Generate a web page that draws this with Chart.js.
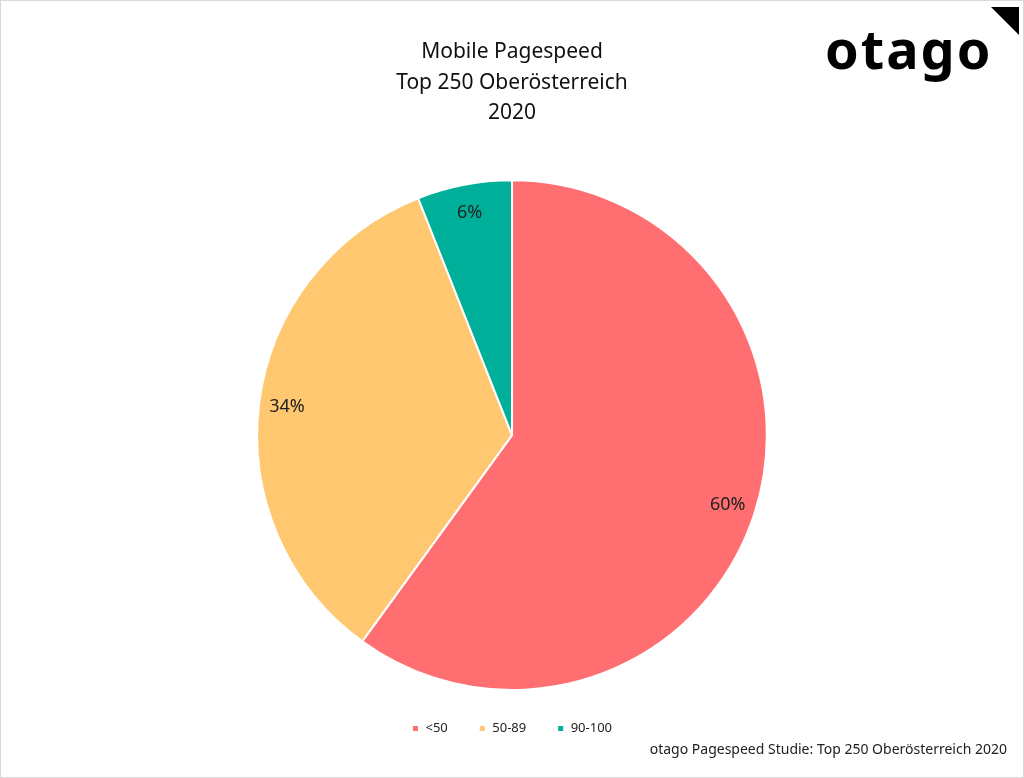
<!DOCTYPE html>
<html><head><meta charset="utf-8">
<script src="https://cdn.jsdelivr.net/npm/chart.js@4"></script>
<style>
html,body{margin:0;padding:0;background:#fff;}
#wrap{position:relative;width:1022px;height:776px;border:1px solid #d9d9d9;overflow:hidden;}
#c{position:absolute;left:0;top:0;}
#logo{position:absolute;left:824px;top:10px;font:bold 54px "Noto Sans",sans-serif;color:#000;letter-spacing:2px;}
#tri{position:absolute;left:990px;top:6px;width:0;height:0;border-top:28px solid #000;border-left:28px solid transparent;}
#foot{position:absolute;right:16px;top:738px;font:14px "Noto Sans",sans-serif;color:#222;}
</style></head><body>
<div id="wrap">
<canvas id="c" width="1022" height="776"></canvas>
<div id="logo">otago</div><div id="tri"></div>
<div id="foot">otago Pagespeed Studie: Top 250 Oberösterreich 2020</div>
</div>
<script>
const labels = ["<50","50-89","90-100"];
const values = [60,34,6];
const colors = ["#FF6F72","#FFC870","#00AF9A"];
const titleLines = ["Mobile Pagespeed","Top 250 Oberösterreich","2020"];

const labelPlugin = {
  id:'lbl',
  afterDatasetsDraw(chart){
    const ctx = chart.ctx;
    const total = values.reduce((a,b)=>a+b,0);
    chart.getDatasetMeta(0).data.forEach((arc,i)=>{
      const mid=(arc.startAngle+arc.endAngle)/2;
      const r=arc.outerRadius*0.89;
      ctx.save();
      ctx.fillStyle='#222';
      ctx.font='18px "Noto Sans", sans-serif';
      ctx.textAlign='center';ctx.textBaseline='middle';
      ctx.fillText(Math.round(values[i]/total*100)+'%',arc.x+Math.cos(mid)*r,arc.y+Math.sin(mid)*r);
      ctx.restore();
    });
  }
};
new Chart(document.getElementById('c'),{
  type:'pie',
  data:{labels,datasets:[{data:values,backgroundColor:colors,borderColor:'#fff',borderWidth:2}]},
  options:{
    responsive:false,animation:false,
    layout:{padding:{top:0,bottom:32,left:0,right:0}},
    plugins:{
      title:{display:true,text:titleLines,color:'#111',font:{family:'"Noto Sans", sans-serif',size:21,weight:'normal',lineHeight:1.45},padding:{top:36,bottom:51}},
      legend:{position:'bottom',labels:{boxWidth:7,boxHeight:7,color:'#222',font:{family:'"Noto Sans", sans-serif',size:13},padding:31}},
      tooltip:{enabled:false}
    }
  },
  plugins:[labelPlugin]
});
</script>
</body></html>
